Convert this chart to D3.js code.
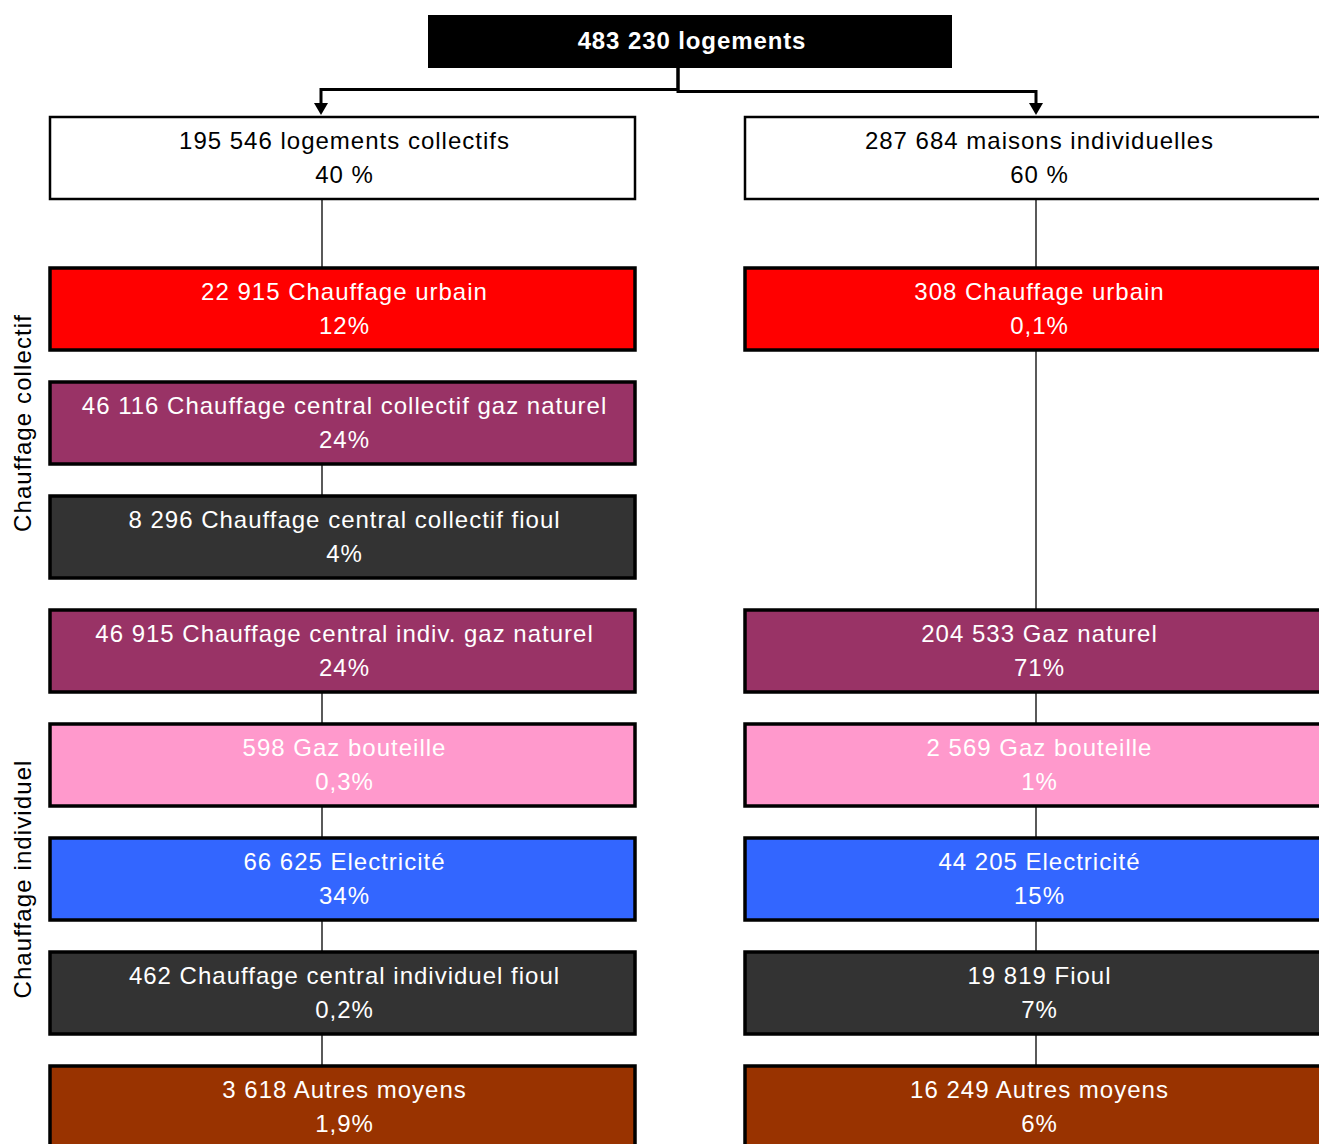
<!DOCTYPE html>
<html>
<head>
<meta charset="utf-8">
<script src="https://cdn.jsdelivr.net/npm/d3@7"></script>
<style>
  html, body { margin: 0; padding: 0; background: #fff; overflow: hidden; }
  svg { display: block; font-family: "Liberation Sans", Arial, sans-serif; }
</style>
</head>
<body>
<svg id="chart" width="1319" height="1144"></svg>
<script>
// Housing stock by heating mode
const totalCount = 483230;
const totalLabel = "logements";

const columns = ["collectifs", "individuelles"];
const columnCounts = [195546, 287684];
const columnLabels = ["logements collectifs", "maisons individuelles"];
const columnPct = ["40 %", "60 %"];

const rowColors = ["#FF0000", "#993366", "#333333", "#993366", "#FF99CC", "#3366FF", "#333333", "#993300"];

const leftCounts = [22915, 46116, 8296, 46915, 598, 66625, 462, 3618];
const leftLabels = [
  "Chauffage urbain",
  "Chauffage central collectif gaz naturel",
  "Chauffage central collectif fioul",
  "Chauffage central indiv. gaz naturel",
  "Gaz bouteille",
  "Electricité",
  "Chauffage central individuel fioul",
  "Autres moyens"
];
const leftPct = ["12%", "24%", "4%", "24%", "0,3%", "34%", "0,2%", "1,9%"];

const rightCounts = [308, null, null, 204533, 2569, 44205, 19819, 16249];
const rightLabels = ["Chauffage urbain", null, null, "Gaz naturel", "Gaz bouteille", "Electricité", "Fioul", "Autres moyens"];
const rightPct = ["0,1%", null, null, "71%", "1%", "15%", "7%", "6%"];

// links between rows (-1 = column header box)
const leftLinks = [[-1, 0], [1, 2], [3, 4], [4, 5], [5, 6], [6, 7]];
const rightLinks = [[-1, 0], [0, 3], [3, 4], [4, 5], [5, 6], [6, 7]];

const groupNames = ["Chauffage collectif", "Chauffage individuel"];
const groupRows = [[0, 2], [3, 7]];

const fr = d3.formatLocale({ decimal: ",", thousands: " ", grouping: [3], currency: ["", " €"] });
const fmt = fr.format(",d");

const svg = d3.select("#chart");
const boxW = 585, boxH = 82;

const x = d3.scaleOrdinal().domain(columns).range([50, 745]);
// connector spine position within each column
const spine = d3.scaleOrdinal().domain(columns).range([322, 1036]);
const y = d3.scaleLinear().domain([0, 1]).range([268, 382]);
const headerY = 117;
const rowTop = i => (i < 0 ? headerY : y(i));

// connector lines
function drawLinks(col, links) {
  svg.append("g").selectAll("line").data(links).join("line")
    .attr("x1", spine(col)).attr("x2", spine(col))
    .attr("y1", d => rowTop(d[0]) + boxH)
    .attr("y2", d => rowTop(d[1]))
    .attr("stroke", "#000").attr("stroke-width", 1.3);
}
drawLinks(columns[0], leftLinks);
drawLinks(columns[1], rightLinks);

// top total box
const topX = 428, topW = 524, topY = 15, topH = 53;
svg.append("rect").attr("x", topX).attr("y", topY).attr("width", topW).attr("height", topH).attr("fill", "#000");
svg.append("text").attr("x", topX + topW / 2 + 2).attr("y", topY + 34)
  .attr("text-anchor", "middle").attr("fill", "#fff")
  .attr("font-size", 24).attr("font-weight", "bold").attr("letter-spacing", 0.9)
  .text(fmt(totalCount) + " " + totalLabel);

// split arrows
const midX = 678;
const arrowTip = headerY - 2;
function arrow(tx, hy) {
  svg.append("path")
    .attr("d", `M${midX},${topY + topH} V${hy} H${tx} V${arrowTip - 10}`)
    .attr("fill", "none").attr("stroke", "#000").attr("stroke-width", 3);
  svg.append("path")
    .attr("d", `M${tx - 7},${arrowTip - 12} L${tx + 7},${arrowTip - 12} L${tx},${arrowTip} Z`)
    .attr("fill", "#000");
}
arrow(spine(columns[0]) - 1, 89.5);
arrow(spine(columns[1]), 91.5);

// box helper
function box(bx, by, fill, line1, line2, textColor, sw) {
  const g = svg.append("g");
  g.append("rect").attr("x", bx).attr("y", by).attr("width", boxW).attr("height", boxH)
    .attr("fill", fill).attr("stroke", "#000").attr("stroke-width", sw);
  const t = g.append("text").attr("text-anchor", "middle").attr("fill", textColor)
    .attr("font-size", 24).attr("letter-spacing", 1);
  t.append("tspan").attr("x", bx + boxW / 2 + 2).attr("y", by + 32).text(line1);
  t.append("tspan").attr("x", bx + boxW / 2 + 2).attr("y", by + 66).text(line2);
}

// column headers
columns.forEach((c, j) => {
  box(x(c), headerY, "#fff", fmt(columnCounts[j]) + " " + columnLabels[j], columnPct[j], "#000", 2.5);
});

// heating mode boxes
leftCounts.forEach((v, i) => {
  box(x(columns[0]), y(i), rowColors[i], fmt(v) + " " + leftLabels[i], leftPct[i], "#fff", 3.5);
});
rightCounts.forEach((v, i) => {
  if (v == null) return;
  box(x(columns[1]), y(i), rowColors[i], fmt(v) + " " + rightLabels[i], rightPct[i], "#fff", 3.5);
});

// group labels (rotated)
groupNames.forEach((name, k) => {
  const [a, b] = groupRows[k];
  const cy = (y(a) + y(b) + boxH) / 2;
  svg.append("text")
    .attr("transform", `translate(31,${cy}) rotate(-90)`)
    .attr("text-anchor", "middle").attr("fill", "#000")
    .attr("font-size", 24).attr("letter-spacing", 1.1)
    .text(name);
});
</script>
</body>
</html>
